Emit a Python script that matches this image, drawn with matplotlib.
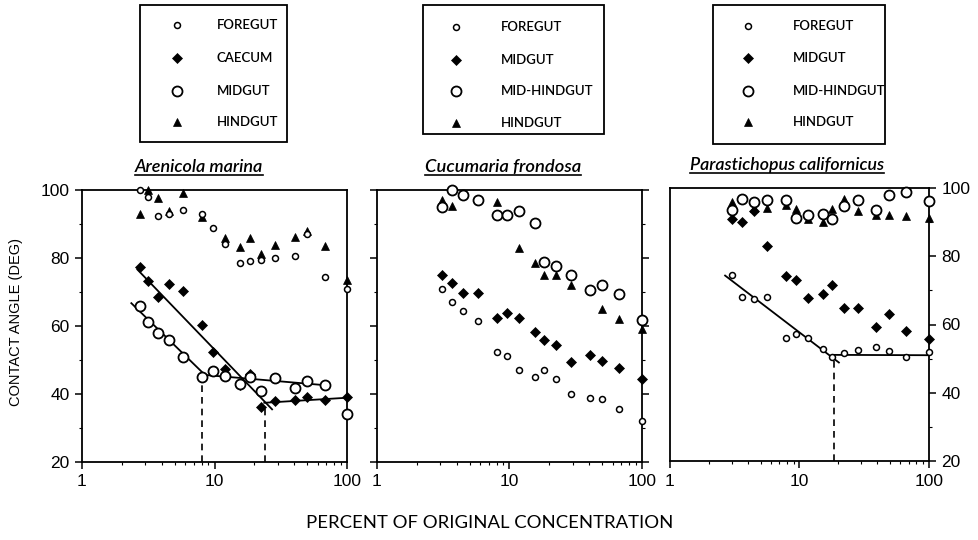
import matplotlib
matplotlib.use('Agg')
import matplotlib.pyplot as plt
import numpy as np
from matplotlib.lines import Line2D
from matplotlib.patches import Rectangle
from matplotlib.ticker import FixedLocator, NullFormatter, MultipleLocator, FuncFormatter

nan = np.nan

# ---------------- data ----------------
# Panel 1: Arenicola marina
conc_a = [2.72, 3.14, 3.72, 4.52, 5.8, 8.1, 9.69, 11.9, 15.6, 18.5, 22.6, 28.8, 40.3, 50.2, 67.9, 100]
a_foregut = [100, 97.8, 92.4, 92.8, 94.1, 93.0, 88.7, 84.1, 78.5, 79.1, 79.3, 80.1, 80.6, 87.2, 74.3, 71.0]
a_caecum = [77.4, 73.2, 68.6, 72.3, 70.3, 60.3, 52.4, 47.4, 42.6, 45.9, 36.3, 37.9, 38.2, 39.1, 38.2, 39.0]
a_midgut = [66.0, 61.3, 57.8, 55.9, 51.0, 44.9, 46.9, 45.2, 43.0, 44.9, 40.9, 44.8, 41.9, 43.8, 42.6, 34.1]
a_hindgut = [92.8, 100, 97.6, 93.9, 99.0, 92.0, nan, 85.8, 83.1, 85.8, 81.3, 83.8, 86.1, 88.0, 83.5, 73.4]
a_mid_fit_x = [2.33, 8.48, 67.9]
a_mid_fit_y = [66.9, 45.6, 42.6]
a_cae_fit1_x = [2.59, 27.5]
a_cae_fit1_y = [76.8, 35.3]
a_cae_fit2_x = [23.4, 100]
a_cae_fit2_y = [37.4, 38.9]
a_breaks_x = [8.0, 23.9]
a_breaks_y = [44.5, 36.0]

# Panel 2: Cucumaria frondosa
conc_c = [3.1, 3.66, 4.43, 5.75, 8.05, 9.57, 11.8, 15.6, 18.3, 22.3, 29.1, 40.5, 50.2, 67.0, 100]
c_foregut = [70.9, 67.0, 64.5, 61.6, 52.5, 51.2, 47.2, 45.1, 47.2, 44.4, 39.9, 38.9, 38.6, 35.7, 32.1]
c_midgut = [75.1, 72.6, 69.7, 69.7, 62.5, 63.9, 62.5, 58.2, 55.9, 54.3, 49.4, 51.6, 49.8, 47.6, 44.3]
c_midhind = [94.9, 100, 98.4, 97.2, 92.7, 92.7, 93.9, 90.4, 78.8, 77.6, 75.1, 70.7, 72.1, 69.5, 61.9]
c_hindgut = [97.2, 95.2, nan, nan, 96.6, nan, 82.8, 78.6, 74.9, 75.1, 72.1, nan, 64.9, 62.1, 59.0]

# Panel 3: Parastichopus californicus
conc_p = [3.0, 3.59, 4.42, 5.6, 7.86, 9.39, 11.6, 15.1, 17.9, 21.9, 28.2, 39.3, 48.9, 65.9, 100]
p_foregut = [74.5, 68.2, 67.6, 68.2, 56.1, 57.1, 55.9, 52.8, 50.6, 51.7, 52.6, 53.5, 52.2, 50.4, 52.0]
p_midgut = [91.0, 90.1, 93.2, 83.0, 74.3, 73.1, 67.9, 68.9, 71.6, 64.7, 64.7, 59.4, 63.1, 58.0, 55.8]
p_midhind = [93.6, 96.9, 95.9, 96.5, 96.5, 91.3, 92.0, 92.3, 91.0, 94.7, 96.5, 93.6, 97.9, 98.8, 96.2]
p_hindgut = [95.9, nan, 94.2, 94.2, 94.9, 93.8, 90.8, 89.9, 93.8, 96.7, 93.3, 92.0, 92.0, 91.8, 91.3]
p_fit1_x = [2.63, 20.4]
p_fit1_y = [74.5, 48.7]
p_fit2_x = [17.9, 100]
p_fit2_y = [51.1, 51.0]
p_breaks_x = [18.6]
p_breaks_y = [51.0]

titles = ['Arenicola marina', 'Cucumaria frondosa', 'Parastichopus californicus']
legend_a = ['FOREGUT', 'CAECUM', 'MIDGUT', 'HINDGUT']
legend_c = ['FOREGUT', 'MIDGUT', 'MID-HINDGUT', 'HINDGUT']
legend_p = ['FOREGUT', 'MIDGUT', 'MID-HINDGUT', 'HINDGUT']
y_label = 'CONTACT ANGLE (DEG)'
x_label = 'PERCENT OF ORIGINAL CONCENTRATION'
x_ticks = [1, 10, 100]
y_ticks = [20, 40, 60, 80, 100]

# ---------------- styles ----------------
STY = {
    'small': dict(marker='o', ms=4.3, mfc='white', mec='black', mew=1.1, ls='none'),
    'diam': dict(marker='D', ms=5.6, mfc='black', mec='black', mew=0.5, ls='none'),
    'big': dict(marker='o', ms=7.2, mfc='white', mec='black', mew=1.3, ls='none'),
    'tri': dict(marker='^', ms=5.5, mfc='black', mec='black', mew=0.5, ls='none'),
}

W, H = 979, 540
fig = plt.figure(figsize=(W / 100, H / 100), dpi=100)
TICKFONT = 'Liberation Sans'
TXTFONT = 'Lato'


def fx(px):
    return px / W


def fy(py):
    return 1 - py / H


def make_axes(l, r, t, b):
    return fig.add_axes([fx(l), fy(b), fx(r - l), (b - t) / H])


def setup(ax, left_ticks, left_labels, right_ticks, right_labels):
    ax.set_xscale('log')
    ax.set_xlim(1, 100)
    ax.set_ylim(20, 100)
    ax.xaxis.set_major_locator(FixedLocator(x_ticks))
    ax.xaxis.set_minor_locator(FixedLocator([2, 3, 4, 5, 6, 7, 8, 9, 20, 30, 40, 50, 60, 70, 80, 90]))
    ax.xaxis.set_major_formatter(FuncFormatter(lambda v, p: f'{v:g}'))
    ax.xaxis.set_minor_formatter(NullFormatter())
    ax.yaxis.set_major_locator(FixedLocator(y_ticks))
    ax.yaxis.set_minor_locator(MultipleLocator(10))
    ax.tick_params(which='major', direction='out', length=5, width=1.1, labelsize=12.5, pad=4)
    ax.tick_params(which='minor', direction='out', length=2.5, width=0.8)
    ax.tick_params(axis='y', which='both', left=left_ticks, labelleft=left_labels,
                   right=right_ticks, labelright=right_labels)
    for lab in ax.get_xticklabels() + ax.get_yticklabels():
        lab.set_fontfamily(TICKFONT)
    for s in ax.spines.values():
        s.set_linewidth(1.3)


def plot_series(ax, x, y, key):
    ax.plot(x, y, clip_on=False, zorder=3, **STY[key])


def fit_line(ax, x, y):
    ax.plot(x, y, color='black', lw=1.3, zorder=2, solid_capstyle='butt')


def break_lines(ax, bx, by):
    for xv, yv in zip(bx, by):
        ax.plot([xv, xv], [20, yv], color='black', lw=1.2, ls=(0, (4, 3)), zorder=2)


# Panel 1
ax1 = make_axes(82, 347, 190, 462)
setup(ax1, True, True, False, False)
plot_series(ax1, conc_a, a_hindgut, 'tri')
plot_series(ax1, conc_a, a_caecum, 'diam')
plot_series(ax1, conc_a, a_midgut, 'big')
plot_series(ax1, conc_a, a_foregut, 'small')
fit_line(ax1, a_mid_fit_x, a_mid_fit_y)
fit_line(ax1, a_cae_fit1_x, a_cae_fit1_y)
fit_line(ax1, a_cae_fit2_x, a_cae_fit2_y)
break_lines(ax1, a_breaks_x, a_breaks_y)

# Panel 2
ax2 = make_axes(377, 642, 190, 462)
setup(ax2, True, False, True, False)
plot_series(ax2, conc_c, c_hindgut, 'tri')
plot_series(ax2, conc_c, c_midgut, 'diam')
plot_series(ax2, conc_c, c_midhind, 'big')
plot_series(ax2, conc_c, c_foregut, 'small')

# Panel 3
ax3 = make_axes(670, 929, 188, 461)
setup(ax3, False, False, True, True)
plot_series(ax3, conc_p, p_hindgut, 'tri')
plot_series(ax3, conc_p, p_midgut, 'diam')
plot_series(ax3, conc_p, p_midhind, 'big')
plot_series(ax3, conc_p, p_foregut, 'small')
fit_line(ax3, p_fit1_x, p_fit1_y)
fit_line(ax3, p_fit2_x, p_fit2_y)
break_lines(ax3, p_breaks_x, p_breaks_y)

# ---------------- legends (boxes) ----------------
legend_keys = ['small', 'diam', 'big', 'tri']


def legend_box(box, mx, tx, rows, labels, keys):
    l, r, t, b = box
    fig.add_artist(Rectangle((fx(l), fy(b)), fx(r - l), (b - t) / H, transform=fig.transFigure,
                             fill=False, lw=1.3, ec='black'))
    for ry, lab, k in zip(rows, labels, keys):
        fig.add_artist(Line2D([fx(mx)], [fy(ry)], transform=fig.transFigure, **STY[k]))
        fig.text(fx(tx), fy(ry), lab, ha='left', va='center', fontsize=9.5,
                 family=TXTFONT, fontweight='semibold')


legend_box((140, 287, 5, 142), 177, 217, [25, 58, 91, 122], legend_a, legend_keys)
legend_box((423, 604, 5, 134), 456, 501, [27, 60, 91, 123], legend_c, legend_keys)
legend_box((713, 885, 5, 144), 748, 793, [26, 58, 91, 122], legend_p, legend_keys)

# ---------------- titles with underline ----------------
title_pos = [(135, 172, 13.0), (425, 172, 13.2), (690, 170, 12.8)]
title_objs = []
for (tx, ty, fs), ttl in zip(title_pos, titles):
    t = fig.text(fx(tx), fy(ty), ttl, ha='left', va='baseline', fontsize=fs,
                 style='italic', family=TXTFONT, fontweight='semibold')
    title_objs.append((t, ty))

fig.text(fx(16), fy(322), y_label, rotation=90, ha='center', va='center', fontsize=10.5,
         family=TICKFONT)
fig.text(fx(490), fy(523), x_label, ha='center', va='center', fontsize=13.3, family=TXTFONT)

fig.canvas.draw()
rend = fig.canvas.get_renderer()
for t, ty in title_objs:
    bb = t.get_window_extent(rend)
    yl = fy(ty + 2.5)
    fig.add_artist(Line2D([bb.x0 / W, bb.x1 / W], [yl, yl], transform=fig.transFigure,
                          color='black', lw=1.2))

fig.savefig('out.png', dpi=100)
